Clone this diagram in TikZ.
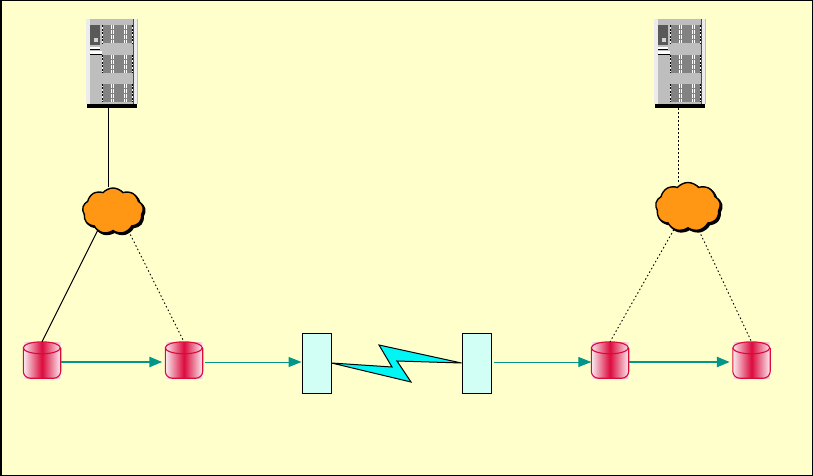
\documentclass[tikz,border=0pt]{standalone}
\usetikzlibrary{arrows.meta}
\usetikzlibrary{calc,positioning}
\usetikzlibrary{shapes.geometric,shapes.symbols,shadows}

\definecolor{pageYellow}{HTML}{FFFFCC}
\definecolor{diskRed}{HTML}{DC0A3C}
\definecolor{diskPale}{HTML}{FAEAF0}
\definecolor{linkTeal}{HTML}{009688}
\definecolor{cloudOrange}{HTML}{FF9614}
\definecolor{boxCyan}{HTML}{D2FFF5}
\definecolor{boltCyan}{HTML}{00F5F5}
\definecolor{rackGray}{HTML}{BEBEBE}
\definecolor{bayGray}{HTML}{828282}

% one rack: name, left edge, top edge
\newcommand{\serverRack}[3]{%
    \node[rack] (#1) at (#2+26,#3+42.5) {};
    \begin{scope}[shift={(#1.north west)}]
        \fill[white!85!gray] (0,0) rectangle (3.5,85);
        \fill[white!85!gray] (48,0) rectangle (51,85);
        \draw[black!70,line width=1pt] (47.5,0) -- (47.5,85);
        \fill[gray!70!black] (4,6) rectangle (14,26);
        \fill[black!65] (6,8) rectangle (13,24);
        \fill[rackGray!70!white] (8,19) rectangle (12,23);
        \fill[white] (4,28) rectangle (14,30);
        \fill[white] (4,32) rectangle (16,35);
        \draw[black,line width=0.6pt] (4,30.5) -- (14,30.5) (4,35.5) -- (16,35.5);
        \foreach \rowTop in {6.5,36,65} {
            \fill[bayGray] (16,\rowTop) rectangle (46,\rowTop+18);
            \foreach \bayX in {16,46} {
                \draw[white,line width=1pt] (\bayX,\rowTop) -- (\bayX,\rowTop+18);
                \draw[black,line width=1pt,dash pattern=on 2pt off 1.5pt] (\bayX,\rowTop) -- (\bayX,\rowTop+18);
            }
            \foreach \bayX in {25.5,27.5,38.5,40.5} {
                \draw[white,line width=0.9pt,dash pattern=on 4pt off 1pt] (\bayX,\rowTop) -- (\bayX,\rowTop+18);
            }
        }
    \end{scope}
    \draw[line width=3.5pt] ([xshift=1pt,yshift=-1.75pt]#1.south west) -- ([xshift=-1pt,yshift=-1.75pt]#1.south east);
}

% one disk: name, centre x, centre y
\newcommand{\storageDisk}[3]{%
    \node[disk] (#1) at (#2,#3) {};
    \draw[diskRed, line width=1.1pt] (#1.north west) ++(0,6) arc[start angle=180, end angle=540, x radius=18.5, y radius=-6];
    \draw[diskRed, line width=1.1pt, rounded corners=7pt] (#1.north west) ++(0,6) -- (#1.south west) -- (#1.south east) -- ++(0,-30);
}

\begin{document}
\begin{tikzpicture}[x=1pt,y=-1pt]
    \tikzstyle{rack} = [fill=rackGray, inner sep=0pt, minimum width=51pt, minimum height=85pt]
    \tikzstyle{disk} = [left color=diskPale, right color=diskPale, middle color=diskRed,
        inner sep=0pt, minimum width=37pt, minimum height=36pt]
    \tikzstyle{netcloud} = [cloud, cloud puffs=9, cloud puff arc=100, draw=black, line width=1.4pt, fill=cloudOrange,
        double copy shadow={shadow xshift=0.8pt, shadow yshift=-0.8pt, fill=black, draw=black},
        inner sep=0pt, aspect=1.3]
    \tikzstyle{extender} = [draw, line width=1pt, fill=boxCyan, inner sep=0pt, minimum width=29pt, minimum height=60pt]
    \tikzstyle{line} = [draw, line width=1pt]
    \tikzstyle{dotted line} = [draw, line width=0.9pt, dash pattern=on 1.5pt off 2.5pt]
    \tikzstyle{thick link} = [draw=linkTeal, line width=2.4pt, -{Triangle[length=13pt,width=10pt]}]
    \tikzstyle{thin link} = [draw=linkTeal, line width=1pt, -{Triangle[length=13pt,width=10pt]}]

    \useasboundingbox (0,0) rectangle (813,476);
    \draw[black, line width=1.5pt, fill=pageYellow] (0.75,0.75) rectangle (812.25,475.25);

    \serverRack{serverA}{86}{19}
    \serverRack{serverB}{654}{19}

    \node[netcloud, minimum width=61pt, minimum height=46pt] (cloudA) at (113,211) {};
    \node[netcloud, minimum width=65pt, minimum height=49pt] (cloudB) at (688,207) {};

    \storageDisk{diskA}{42}{360}
    \storageDisk{diskB}{184}{360}
    \storageDisk{diskC}{610}{360}
    \storageDisk{diskD}{751.5}{360}

    \node[extender] (extA) at (316.5,363) {};
    \node[extender] (extB) at (476.5,363) {};
    \draw[line width=1.5pt] (extA.south west) -- (extA.south east);
    \draw[line width=1.5pt] (extB.south west) -- (extB.south east);

    % network attachments
    \path [line] ([xshift=-3.5pt]serverA.south) -- ([xshift=-4.5pt]cloudA.north);
    \path [dotted line] ([xshift=-1.7pt,yshift=-4pt]serverB.south) -- ([xshift=-9.7pt]cloudB.north);
    \path [line] (cloudA.232) -- (diskA.north);
    \path [dotted line] (cloudA.-52) -- (diskB.north);
    \path [dotted line] (cloudB.238) -- (diskC.north);
    \path [dotted line] (cloudB.-65) -- (diskD.north);

    % copy paths
    \path [thick link, shorten >=3pt] ([yshift=-2pt]diskA.east) -- ([yshift=-2pt]diskB.west);
    \path [thin link, shorten <=2pt] ([yshift=-2pt]diskB.east) -- ([yshift=1pt]extA.west);
    \path [thin link, shorten <=2pt] ([yshift=1pt]extB.east) -- ([yshift=-2pt]diskC.west);
    \path [thick link, shorten >=3pt] ([yshift=-2pt]diskC.east) -- ([yshift=-2pt]diskD.west);

    % long distance link
    \draw[line width=1pt, fill=boltCyan, line join=miter]
        (extA.east) -- (392,367) -- (379,345) -- (extB.west) -- (397,361) -- (411,382) -- cycle;
\end{tikzpicture}
\end{document}
